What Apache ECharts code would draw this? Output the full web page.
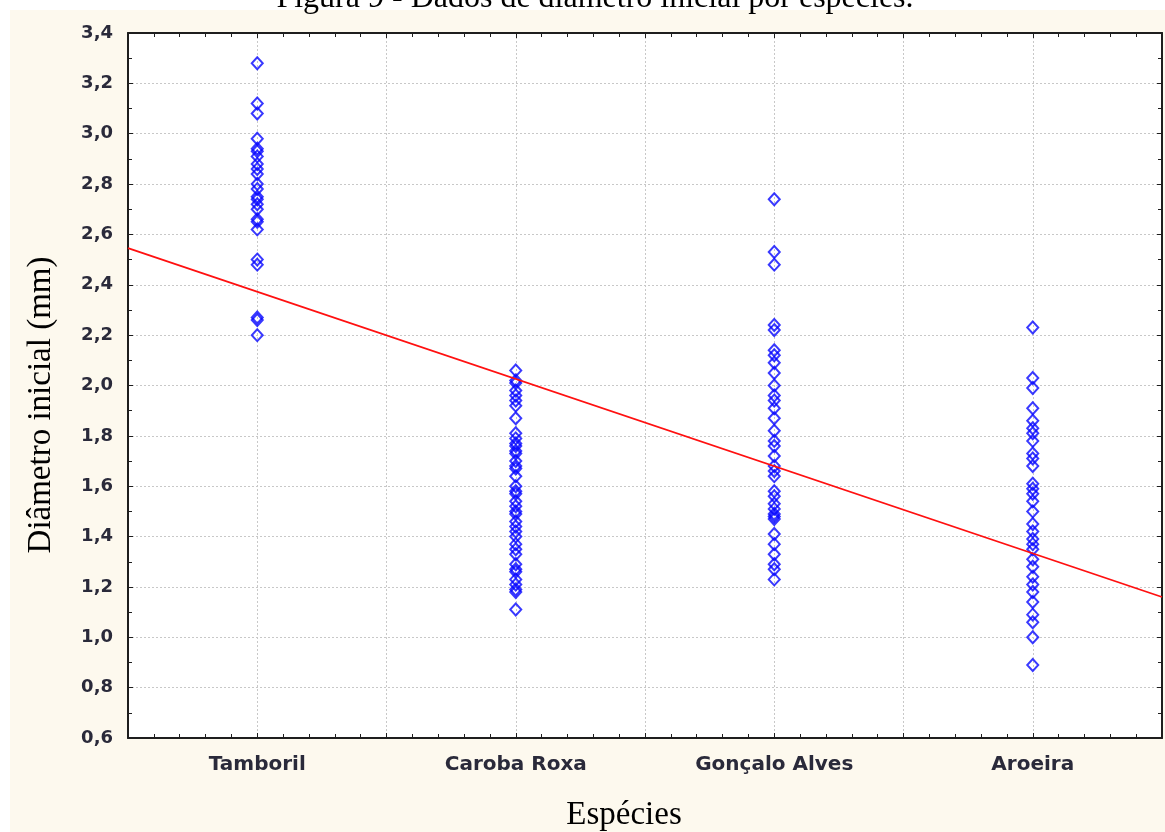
<!DOCTYPE html>
<html>
<head>
<meta charset="utf-8">
<script src="https://cdn.jsdelivr.net/npm/echarts@6/dist/echarts.min.js"></script>
<style>
html,body{margin:0;padding:0;background:#fff;}
#chart{width:1165px;height:832px;}
</style>
</head>
<body>
<div id="chart"></div>
<script>
// ---- data ----
const categories = ['Tamboril', 'Caroba Roxa', 'Gonçalo Alves', 'Aroeira'];
const tamboril = [3.28, 3.12, 3.08, 2.98, 2.94, 2.93, 2.91, 2.88, 2.86, 2.84, 2.80, 2.78, 2.75, 2.74, 2.72, 2.70, 2.66, 2.65, 2.62, 2.50, 2.48, 2.27, 2.26, 2.20];
const carobaRoxa = [2.06, 2.02, 2.01, 1.98, 1.96, 1.94, 1.92, 1.87, 1.81, 1.79, 1.77, 1.76, 1.74, 1.73, 1.70, 1.68, 1.67, 1.64, 1.60, 1.58, 1.57, 1.54, 1.52, 1.50, 1.49, 1.46, 1.44, 1.42, 1.40, 1.37, 1.35, 1.33, 1.29, 1.27, 1.26, 1.23, 1.21, 1.19, 1.18, 1.11];
const goncaloAlves = [2.74, 2.53, 2.48, 2.24, 2.22, 2.14, 2.12, 2.09, 2.05, 2.00, 1.96, 1.94, 1.91, 1.87, 1.82, 1.78, 1.76, 1.72, 1.68, 1.66, 1.64, 1.58, 1.56, 1.53, 1.51, 1.49, 1.48, 1.47, 1.41, 1.37, 1.33, 1.29, 1.27, 1.23];
const aroeira = [2.23, 2.03, 1.99, 1.91, 1.86, 1.83, 1.81, 1.78, 1.73, 1.71, 1.68, 1.61, 1.59, 1.57, 1.54, 1.50, 1.45, 1.42, 1.39, 1.37, 1.35, 1.31, 1.28, 1.24, 1.21, 1.18, 1.14, 1.09, 1.06, 1.00, 0.89];
const fitLine = [[0.5, 2.546], [4.5, 1.16]];
const titleText = 'Figura 9 - Dados de diâmetro inicial por espécies.';
const xName = 'Espécies';
const yName = 'Diâmetro inicial (mm)';

const groups = [tamboril, carobaRoxa, goncaloAlves, aroeira];

const chart = echarts.init(document.getElementById('chart'), null, {renderer: 'canvas'});

const frameColor = '#1e1e1e';
const labelColor = '#2a2a3a';
const gridLine = {show: true, lineStyle: {color: '#c8c8c8', width: 1, type: [2, 2]}};

const scatterSeries = groups.map((vals, i) => ({
  type: 'scatter',
  name: categories[i],
  symbol: 'diamond',
  symbolSize: [11, 12],
  itemStyle: {color: 'rgba(0,0,0,0)', borderColor: '#0808ff', borderWidth: 2},
  data: vals.map(v => [i + 1, v]),
  z: 3
}));

const option = {
  animation: false,
  backgroundColor: '#ffffff',
  graphic: [
    {type: 'rect', shape: {x: 10, y: 10, width: 1155, height: 822}, style: {fill: '#fdf9ee'}, z: -10, silent: true},
    {type: 'text', x: 595, y: -1, style: {text: titleText, font: '32px "Liberation Serif"', fill: '#000', align: 'center', verticalAlign: 'middle'}, z: 10},
    {type: 'text', x: 624, y: 815, style: {text: xName, font: '33px "Liberation Serif"', fill: '#000', align: 'center', verticalAlign: 'middle'}, z: 10},
    {type: 'text', x: 41, y: 405, rotation: Math.PI / 2, style: {text: yName, font: '33px "Liberation Serif"', fill: '#000', align: 'center', verticalAlign: 'middle'}, z: 10}
  ],
  grid: {left: 128, right: 2, top: 33, bottom: 94, show: true, backgroundColor: '#ffffff', borderWidth: 0},
  xAxis: [
    {
      type: 'value', min: 0.5, max: 4.5, interval: 0.5, position: 'bottom',
      axisLine: {show: true, onZero: false, lineStyle: {color: frameColor, width: 2}},
      axisTick: {show: true, inside: true, length: 5, lineStyle: {color: frameColor, width: 1}},
      minorTick: {show: true, splitNumber: 5, length: 4, lineStyle: {color: frameColor, width: 1}},
      splitLine: gridLine,
      axisLabel: {
        margin: 17, color: labelColor, fontFamily: 'DejaVu Sans', fontWeight: 'bold', fontSize: 20,
        formatter: v => (Number.isInteger(v) && v >= 1 && v <= 4) ? categories[v - 1] : ''
      }
    },
    {
      type: 'value', min: 0.5, max: 4.5, interval: 0.5, position: 'top',
      axisLine: {show: true, onZero: false, lineStyle: {color: frameColor, width: 2}},
      axisTick: {show: true, inside: true, length: 5, lineStyle: {color: frameColor, width: 1}},
      minorTick: {show: true, splitNumber: 5, length: 4, lineStyle: {color: frameColor, width: 1}},
      splitLine: {show: false},
      axisLabel: {show: false}
    }
  ],
  yAxis: [
    {
      type: 'value', min: 0.6, max: 3.4, interval: 0.2, position: 'left',
      axisLine: {show: true, onZero: false, lineStyle: {color: frameColor, width: 2}},
      axisTick: {show: true, inside: true, length: 5, lineStyle: {color: frameColor, width: 1}},
      minorTick: {show: true, splitNumber: 2, length: 4, lineStyle: {color: frameColor, width: 1}},
      splitLine: gridLine,
      axisLabel: {
        margin: 15, color: labelColor, fontFamily: 'DejaVu Sans', fontWeight: 'bold', fontSize: 18,
        formatter: v => v.toFixed(1).replace('.', ',')
      }
    },
    {
      type: 'value', min: 0.6, max: 3.4, interval: 0.2, position: 'right',
      axisLine: {show: true, onZero: false, lineStyle: {color: frameColor, width: 2}},
      axisTick: {show: true, inside: true, length: 5, lineStyle: {color: frameColor, width: 1}},
      minorTick: {show: true, splitNumber: 2, length: 4, lineStyle: {color: frameColor, width: 1}},
      splitLine: {show: false},
      axisLabel: {show: false}
    }
  ],
  series: scatterSeries.concat([{
    type: 'line',
    data: fitLine,
    symbol: 'none',
    lineStyle: {color: '#ff1010', width: 1.8},
    z: 4
  }])
};
chart.setOption(option);
</script>
</body>
</html>
